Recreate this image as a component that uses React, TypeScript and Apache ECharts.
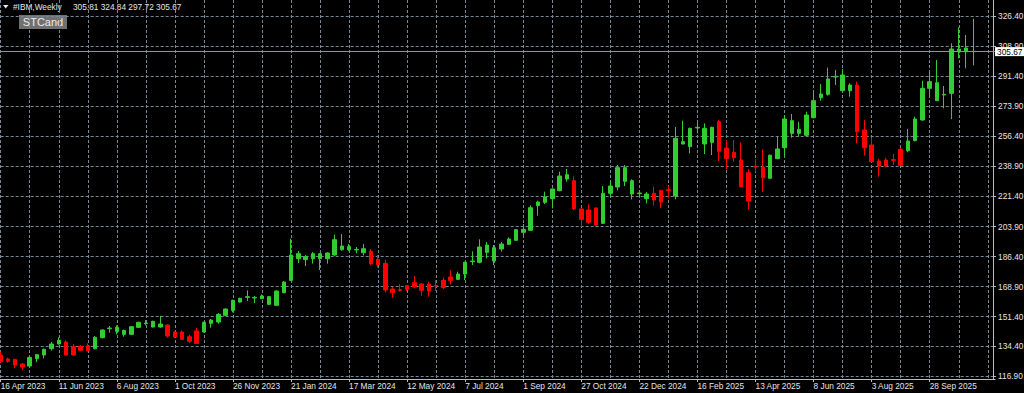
import React, { useEffect, useRef } from 'react';
import * as echarts from 'echarts';

// ---------- texts ----------
const SYMBOL_TEXT = '#IBM,Weekly';
const HEADER_OHLC = '305.81 324.84 297.72 305.67';
const INDICATOR_NAME = 'STCand';

// ---------- time axis (weekly bars, first bar = week of 16 Apr 2023) ----------
const FIRST_WEEK_UTC = Date.UTC(2023, 3, 16);
const EMPTY_WEEKS_AFTER = 3; // chart shift space on the right
const MONTHS = ['Jan', 'Feb', 'Mar', 'Apr', 'May', 'Jun', 'Jul', 'Aug', 'Sep', 'Oct', 'Nov', 'Dec'];

// ---------- weekly OHLC ----------
const opens = [
  129.11, 126.79, 126.59, 123.88, 122.71, 126.98, 129.11, 132.80, 135.52, 136.68,
  133.96, 134.16, 134.35, 132.80, 139.20, 144.44, 142.89, 141.14, 141.14, 145.22,
  147.35, 145.41, 145.41, 146.57, 142.50, 142.50, 139.78, 143.08, 142.50, 147.55,
  148.32, 152.20, 155.11, 159.96, 162.67, 162.29, 161.90, 158.60, 158.02, 165.39,
  172.57, 185.18, 184.60, 185.18, 185.18, 185.18, 187.31, 190.41, 190.41, 190.22,
  188.67, 189.44, 184.79, 182.46, 167.52, 167.14, 169.46, 171.21, 170.43, 170.43,
  169.66, 172.57, 174.51, 173.15, 176.25, 183.43, 183.05, 188.86, 183.82, 190.81,
  193.52, 195.85, 200.51, 201.67, 216.02, 217.96, 220.10, 224.75, 231.54, 230.57,
  214.08, 213.50, 214.67, 205.74, 223.20, 226.89, 230.18, 222.81, 223.01, 220.10,
  223.20, 224.75, 225.34, 221.65, 251.91, 250.36, 261.23, 251.91, 252.88, 264.91,
  249.59, 247.06, 242.60, 235.23, 238.92, 238.33, 232.00, 243.40, 249.78, 258.12,
  258.12, 256.96, 267.24, 278.88, 280.82, 290.91, 282.95, 282.95, 286.25, 260.06,
  251.33, 242.02, 242.60, 242.80, 248.81, 248.04, 253.85, 265.88, 284.31, 277.12,
  280.42, 281.39, 306.03, 305.64, 305.81,
];
const highs = [
  131.05, 127.56, 126.80, 124.26, 127.95, 129.70, 132.80, 136.68, 139.40, 137.65,
  135.52, 134.93, 135.90, 140.17, 144.05, 145.99, 146.38, 143.86, 145.99, 148.51,
  149.48, 149.10, 151.81, 146.96, 142.89, 143.47, 140.75, 145.02, 148.51, 150.06,
  153.56, 156.27, 161.32, 162.48, 166.75, 163.45, 164.42, 163.45, 166.75, 172.18,
  196.82, 189.64, 187.31, 189.06, 188.47, 188.86, 199.14, 199.53, 193.71, 191.97,
  193.71, 190.80, 187.31, 184.60, 168.88, 170.43, 169.85, 175.09, 170.82, 171.79,
  172.76, 174.31, 178.58, 177.61, 183.43, 189.44, 196.43, 194.88, 193.13, 194.88,
  197.59, 202.45, 205.35, 216.22, 218.93, 224.17, 225.92, 235.81, 237.36, 233.10,
  214.47, 216.80, 215.05, 227.47, 230.96, 239.69, 239.69, 231.35, 225.14, 223.98,
  227.08, 225.14, 227.47, 261.81, 265.49, 261.42, 264.91, 263.94, 262.00, 265.88,
  254.24, 254.24, 252.88, 237.17, 242.99, 248.81, 245.71, 256.40, 268.79, 269.37,
  264.91, 270.73, 282.95, 286.83, 296.34, 294.98, 295.56, 287.22, 288.19, 265.88,
  255.60, 243.19, 243.96, 246.09, 249.59, 260.64, 267.82, 288.77, 294.01, 300.79,
  285.66, 310.49, 319.80, 315.34, 324.84,
];
const lows = [
  124.65, 124.65, 121.35, 120.38, 122.13, 125.04, 127.17, 131.64, 135.13, 128.72,
  128.72, 131.44, 131.25, 132.41, 138.81, 142.11, 141.14, 139.78, 140.75, 144.83,
  146.38, 145.22, 145.02, 139.20, 139.20, 137.84, 136.10, 135.71, 142.30, 145.02,
  147.35, 151.81, 153.95, 159.57, 160.54, 159.38, 161.70, 158.21, 157.82, 165.00,
  172.18, 182.66, 180.91, 182.27, 178.58, 182.27, 186.92, 189.83, 189.64, 188.28,
  187.12, 181.49, 179.94, 165.39, 162.48, 165.97, 166.36, 167.91, 163.64, 163.06,
  166.36, 167.52, 170.24, 172.76, 172.76, 181.49, 182.46, 185.37, 181.49, 189.25,
  193.13, 195.46, 198.95, 201.28, 210.20, 216.99, 214.47, 224.37, 229.99, 213.50,
  203.80, 205.35, 203.80, 205.35, 221.26, 224.95, 227.47, 219.71, 221.26, 217.38,
  216.22, 214.47, 220.29, 219.71, 251.72, 246.48, 258.12, 246.09, 245.51, 242.02,
  237.17, 241.63, 226.69, 213.89, 235.81, 223.98, 231.50, 243.00, 244.54, 255.60,
  256.18, 256.57, 266.85, 277.13, 280.04, 286.25, 282.37, 279.46, 252.30, 245.12,
  241.24, 232.90, 238.33, 239.69, 239.11, 247.07, 253.47, 265.49, 279.46, 276.93,
  272.67, 266.46, 301.76, 295.94, 297.72,
];
const closes = [
  125.23, 125.43, 123.30, 122.13, 127.76, 129.31, 132.41, 135.52, 137.65, 129.11,
  129.11, 131.83, 131.64, 139.40, 143.66, 144.83, 145.22, 143.47, 145.60, 148.13,
  147.74, 148.71, 147.16, 140.17, 139.59, 138.23, 137.07, 135.90, 148.13, 149.48,
  152.78, 155.88, 160.93, 162.09, 163.06, 162.67, 163.45, 163.06, 166.36, 171.60,
  187.31, 188.09, 186.34, 188.09, 188.09, 188.47, 196.23, 192.55, 192.16, 190.61,
  190.98, 182.27, 181.69, 166.94, 165.39, 166.75, 167.33, 168.69, 166.75, 166.36,
  169.27, 168.30, 172.57, 176.25, 183.04, 183.82, 191.97, 193.13, 191.58, 193.71,
  196.62, 202.06, 202.25, 214.86, 218.16, 221.07, 225.72, 233.29, 234.06, 214.28,
  208.07, 206.32, 204.77, 223.20, 227.47, 238.14, 238.14, 230.57, 223.40, 222.81,
  219.32, 218.16, 224.95, 255.21, 253.27, 261.03, 261.61, 261.03, 261.61, 247.65,
  243.38, 243.96, 227.08, 218.74, 238.53, 232.32, 245.40, 249.00, 266.46, 265.49,
  260.45, 268.79, 277.13, 281.01, 289.74, 291.29, 292.07, 286.25, 259.09, 249.78,
  241.63, 239.11, 239.11, 242.41, 239.50, 253.66, 266.46, 284.31, 288.19, 287.60,
  280.81, 307.19, 307.19, 307.78, 305.67,
];

// ---------- price axis ----------
const PRICE_TICKS = [116.9, 134.4, 151.4, 168.9, 186.4, 203.9, 221.4, 238.9, 256.4, 273.9, 291.4, 308.9, 326.4];
const PRICE_MIN = 115.16;
const PRICE_MAX = 335.71;
const LAST_PRICE = 305.67;

// ---------- styles ----------
const FONT = '"Liberation Sans", Arial, sans-serif';
const BULL = '#32cd32';
const BEAR = '#ff0000';
const GRID_COLOR = '#778899';
const AXIS_COLOR = '#bdbdbd';
const TEXT_COLOR = '#e6e6e6';
const BAR_STEP = 7.258;

function buildCategories(): string[] {
  const n = opens.length + EMPTY_WEEKS_AFTER;
  const out: string[] = [];
  for (let i = 0; i < n; i++) {
    const d = new Date(FIRST_WEEK_UTC + i * 7 * 86400000);
    out.push(`${d.getUTCDate()} ${MONTHS[d.getUTCMonth()]} ${d.getUTCFullYear()}`);
  }
  return out;
}

function buildOption() {
  const categories = buildCategories();
  const lastIdx = opens.length - 1;
  const data = opens.map((o, i) => {
    const value = [o, closes[i], lows[i], highs[i]];
    if (i === lastIdx) {
      return { value, itemStyle: { color0: BULL, borderColor0: BULL } };
    }
    return value;
  });
  const showDate = (i: number) => i % 8 === 0 && i < opens.length;
  const gridWidth = (categories.length - 1) * BAR_STEP;

  return {
    animation: false,
    backgroundColor: '#000000',
    grid: {
      left: 0.7,
      top: 0,
      width: gridWidth,
      height: 379,
      containLabel: false,
      outerBoundsMode: 'none',
    },
    xAxis: {
      type: 'category',
      data: categories,
      boundaryGap: false,
      axisLine: { show: true, lineStyle: { color: AXIS_COLOR, width: 1 } },
      axisTick: { show: true, interval: showDate, length: 3, lineStyle: { color: AXIS_COLOR } },
      axisLabel: {
        interval: showDate,
        align: 'left',
        margin: 3,
        color: TEXT_COLOR,
        fontSize: 8.3,
        fontFamily: FONT,
        hideOverlap: false,
      },
      splitLine: { show: true, interval: 3, lineStyle: { color: GRID_COLOR, type: [3, 2], width: 1 } },
    },
    yAxis: {
      type: 'value',
      position: 'right',
      min: PRICE_MIN,
      max: PRICE_MAX,
      offset: -2,
      axisLine: { show: true, lineStyle: { color: AXIS_COLOR, width: 1 } },
      axisTick: { show: true, customValues: PRICE_TICKS, length: 3, lineStyle: { color: AXIS_COLOR } },
      axisLabel: {
        customValues: PRICE_TICKS,
        formatter: (v: number) => v.toFixed(2),
        margin: 5,
        color: TEXT_COLOR,
        fontSize: 8.3,
        fontFamily: FONT,
        showMinLabel: true,
        showMaxLabel: true,
      },
      splitLine: { show: true, lineStyle: { color: GRID_COLOR, type: [3, 2], width: 1 } },
    },
    series: [
      {
        type: 'candlestick',
        data,
        barWidth: 4,
        itemStyle: {
          color: BULL,
          color0: BEAR,
          borderColor: BULL,
          borderColor0: BEAR,
          borderWidth: 1,
        },
        markLine: {
          silent: true,
          symbol: 'none',
          animation: false,
          data: [{ yAxis: LAST_PRICE }],
          lineStyle: { color: '#8896a4', type: 'solid', width: 1 },
          label: {
            show: true,
            position: 'end',
            distance: 0,
            formatter: () => LAST_PRICE.toFixed(2),
            backgroundColor: '#ffffff',
            color: '#000000',
            padding: [1, 2, 0, 2],
            fontSize: 8.3,
            fontFamily: FONT,
          },
        },
      },
    ],
    graphic: [
      {
        type: 'polygon',
        shape: { points: [[3, 5], [8.5, 5], [5.75, 8.5]] },
        style: { fill: TEXT_COLOR },
      },
      {
        type: 'text',
        x: 13,
        y: 7,
        style: { text: SYMBOL_TEXT, fill: TEXT_COLOR, fontSize: 8.3, fontFamily: FONT, verticalAlign: 'middle' },
      },
      {
        type: 'text',
        x: 73,
        y: 7,
        style: { text: HEADER_OHLC, fill: TEXT_COLOR, fontSize: 8.3, fontFamily: FONT, verticalAlign: 'middle' },
      },
      {
        type: 'rect',
        shape: { x: 19, y: 15, width: 48, height: 14 },
        style: { fill: '#707070' },
      },
      {
        type: 'text',
        x: 43,
        y: 22.3,
        style: {
          text: INDICATOR_NAME,
          fill: '#ececec',
          fontSize: 11,
          fontFamily: FONT,
          align: 'center',
          verticalAlign: 'middle',
        },
      },
    ],
  };
}

export default function App() {
  const ref = useRef<HTMLDivElement>(null);
  useEffect(() => {
    document.body.style.margin = '0';
    document.body.style.background = '#000';
    const chart = echarts.init(ref.current as HTMLDivElement, null, { renderer: 'svg' });
    chart.setOption(buildOption() as any);
    return () => {
      chart.dispose();
    };
  }, []);
  return (
    <div
      ref={ref}
      style={{ position: 'fixed', left: 0, top: 0, width: 1024, height: 393, background: '#000' }}
    />
  );
}
